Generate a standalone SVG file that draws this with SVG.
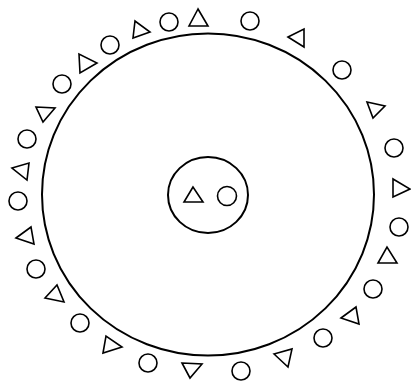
<svg xmlns="http://www.w3.org/2000/svg" width="411" height="381" viewBox="0 0 411 381">
<style>
.s{fill:none;stroke:#000;stroke-width:2}
.c{fill:none;stroke:#000;stroke-width:1.6}
.t{fill:none;stroke:#000;stroke-width:1.6;stroke-linejoin:miter}
</style>
<rect width="411" height="381" fill="#fff"/>
<g id="outer"><ellipse class="s" cx="208" cy="194.5" rx="166" ry="161"/></g>
<g id="inner">
<ellipse class="s" cx="208" cy="195" rx="40" ry="38"/>
<polygon class="t" points="193,187 184,202 203,202"/>
<circle class="c" cx="227" cy="196" r="9.5"/>
</g>
<g id="ring">
<polygon class="t" points="198,9 189,26 208,26"/>
<circle class="c" cx="169" cy="22" r="9"/>
<polygon class="t" points="135,21 133,38 150,32"/>
<circle class="c" cx="110" cy="45" r="9"/>
<polygon class="t" points="79,54 80,73 97,63"/>
<circle class="c" cx="62" cy="84" r="9"/>
<polygon class="t" points="36,107 55,108 43,122"/>
<circle class="c" cx="27" cy="139" r="9"/>
<polygon class="t" points="12,168 29,163 27,180"/>
<circle class="c" cx="18" cy="201" r="9"/>
<polygon class="t" points="16,238 31,227 34,244"/>
<circle class="c" cx="36" cy="269" r="9"/>
<polygon class="t" points="45,298 57,285 64,302"/>
<circle class="c" cx="80" cy="323" r="9"/>
<polygon class="t" points="103,353 106,336 122,347"/>
<circle class="c" cx="148" cy="363" r="9"/>
<polygon class="t" points="182,363 202,364 190,378"/>
<circle class="c" cx="241" cy="371" r="9"/>
<polygon class="t" points="274,354 292,349 288,367"/>
<circle class="c" cx="323" cy="338" r="9"/>
<polygon class="t" points="341,318 356,307 359,324"/>
<circle class="c" cx="373" cy="289" r="9"/>
<polygon class="t" points="378,263 397,263 387,247"/>
<circle class="c" cx="399" cy="227" r="9"/>
<polygon class="t" points="393,179 393,197 410,189"/>
<circle class="c" cx="394" cy="148" r="9"/>
<polygon class="t" points="367,102 385,106 373,118"/>
<circle class="c" cx="342" cy="70" r="9"/>
<polygon class="t" points="288,37 304,29 304,47"/>
<circle class="c" cx="250" cy="21" r="9"/>
</g>
</svg>
